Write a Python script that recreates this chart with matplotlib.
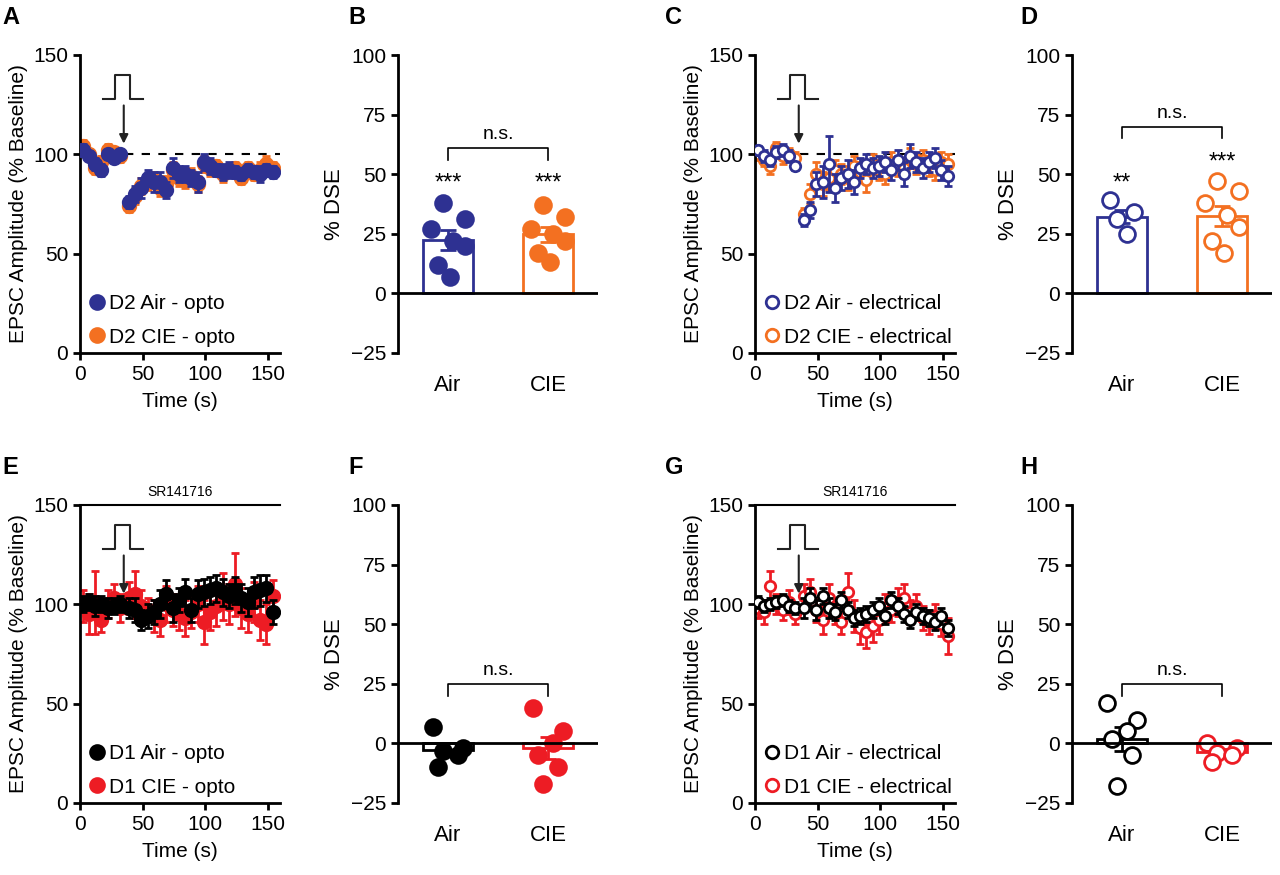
import matplotlib
matplotlib.use("Agg")
import matplotlib.pyplot as plt
from matplotlib.lines import Line2D
import numpy as np

plt.rcParams['font.family'] = ['Liberation Sans', 'DejaVu Sans']
plt.rcParams['font.size'] = 13

BLUE = '#2E3192'
ORANGE = '#F37021'
RED = '#ED1C24'
BLACK = '#000000'

t_base = [2, 7, 12, 17, 22, 27, 32]
t_post = [39, 44, 49, 54, 59, 64, 69, 74, 79, 84, 89, 94, 99, 104, 109, 114,
          119, 124, 129, 134, 139, 144, 149, 154]
time = t_base + t_post

a_air = [102, 99, 95, 92, 100, 98, 100, 76, 80, 83, 88, 86, 86, 82, 93, 90, 90, 88, 86, 96,
         94, 92, 91, 92, 91, 90, 92, 91, 90, 92, 91]
a_air_err = [3, 2, 3, 3, 2, 2, 2, 3, 4, 5, 4, 5, 5, 4, 5, 4, 4, 4, 5, 4,
             4, 3, 4, 4, 3, 3, 3, 3, 4, 3, 3]
a_cie = [104, 100, 93, 96, 102, 101, 99, 74, 79, 84, 86, 87, 83, 85, 92, 88, 87, 89, 85, 95,
         93, 94, 90, 92, 93, 88, 93, 90, 92, 95, 93]
a_cie_err = [3, 2, 3, 3, 3, 2, 3, 3, 4, 4, 4, 4, 4, 4, 4, 4, 4, 4, 4, 4,
             4, 3, 4, 3, 3, 3, 3, 3, 4, 4, 3]

c_air = [102, 99, 97, 101, 102, 99, 94, 67, 72, 85, 86, 95, 83, 88, 90, 86, 93, 95, 93, 94,
         96, 92, 97, 90, 99, 96, 93, 96, 98, 92, 89]
c_air_err = [2, 3, 3, 3, 3, 3, 2, 3, 4, 6, 8, 14, 7, 6, 7, 6, 5, 5, 5, 5,
             5, 5, 5, 6, 6, 5, 5, 5, 5, 5, 5]
c_cie = [100, 97, 94, 103, 99, 100, 98, 70, 80, 90, 85, 88, 92, 90, 88, 94, 91, 87, 95, 92,
         90, 96, 94, 93, 98, 95, 97, 94, 92, 96, 95]
c_cie_err = [3, 3, 4, 3, 4, 3, 3, 3, 5, 6, 6, 6, 5, 5, 6, 5, 5, 6, 5, 5,
             5, 5, 5, 5, 5, 5, 5, 5, 5, 5, 5]

e_air = [100, 101, 99, 100, 98, 99, 100, 98, 97, 92, 94, 96, 100, 105, 98, 102, 106, 97, 105,
         106, 107, 108, 106, 104, 107, 103, 101, 106, 107, 108, 96]
e_air_err = [4, 4, 5, 4, 5, 4, 4, 5, 6, 5, 6, 6, 7, 7, 7, 6, 7, 6, 7, 7,
             7, 7, 7, 6, 7, 7, 7, 8, 8, 7, 6]
e_cie = [99, 95, 101, 92, 100, 103, 98, 103, 105, 99, 97, 94, 92, 100, 97, 95, 93, 96, 100,
         91, 96, 99, 104, 100, 110, 98, 95, 101, 92, 90, 104]
e_cie_err = [8, 10, 16, 6, 7, 7, 7, 8, 12, 8, 6, 8, 8, 9, 8, 8, 9, 8, 9, 11,
             9, 10, 12, 10, 16, 10, 9, 10, 10, 10, 8]

g_air = [101, 99, 100, 101, 102, 99, 98, 98, 103, 97, 104, 98, 96, 102, 97, 93, 94, 95, 97,
         99, 94, 102, 99, 95, 92, 96, 94, 93, 91, 94, 88]
g_air_err = [3, 3, 3, 3, 3, 3, 3, 5, 5, 5, 4, 5, 4, 4, 4, 4, 4, 4, 4, 4,
             4, 4, 4, 4, 4, 4, 4, 4, 4, 4, 4]
g_cie = [98, 96, 109, 100, 97, 101, 95, 104, 106, 97, 92, 103, 96, 91, 106, 94, 88, 86, 89,
         92, 98, 97, 101, 103, 96, 99, 93, 91, 94, 90, 84]
g_cie_err = [5, 6, 8, 5, 5, 6, 5, 6, 7, 6, 7, 7, 6, 6, 10, 8, 8, 8, 8, 7,
             7, 6, 7, 7, 6, 6, 6, 6, 6, 6, 9]

groups = ['Air', 'CIE']
b_air = [38, 31, 27, 22, 20, 12, 7]
b_cie = [37, 32, 27, 25, 22, 17, 13]
d_air = [39, 34, 31, 25]
d_cie = [47, 43, 38, 33, 28, 22, 17]
f_air = [7, -2, -3, -5, -10]
f_cie = [15, 5, 0, -5, -10, -17]
h_air = [17, 10, 5, 2, -5, -18]
h_cie = [0, -2, -4, -5, -8]

H = 875.0
W = 1280.0
def rect(l, top, r, bot):
    return [l / W, 1 - bot / H, (r - l) / W, (bot - top) / H]

fig = plt.figure(figsize=(12.8, 8.75), dpi=100)

def time_panel(pos, s1, e1, s2, e2, c1, c2, filled, labels, sr=False, dashed=False):
    ax = fig.add_axes(pos)
    ms = 9 if filled else 7.5
    for s, e, c, z in [(s2, e2, c2, 2), (s1, e1, c1, 3)]:
        ax.errorbar(time, s, yerr=e, fmt='o', color=c, ecolor=c, elinewidth=2, capsize=3,
                    capthick=2, ms=ms, mfc=c if filled else 'white', mec=c, mew=2, zorder=z)
    ax.set_xlim(0, 160)
    ax.set_ylim(0, 150)
    ax.set_xticks([0, 50, 100, 150])
    ax.set_yticks([0, 50, 100, 150])
    ax.spines['right'].set_visible(False)
    if sr:
        ax.spines['top'].set_linewidth(1.5)
        ax.text(80, 153, 'SR141716', ha='center', va='bottom', fontsize=10)
    else:
        ax.spines['top'].set_visible(False)
    for sp in ['left', 'bottom']:
        ax.spines[sp].set_linewidth(2)
    ax.tick_params(width=2, length=5, labelsize=15)
    if dashed:
        ax.plot([36, 160], [100, 100], ls=(0, (4, 4)), color='black', lw=1.5, zorder=1)
    ax.plot([18, 28, 28, 40, 40, 50], [128, 128, 140, 140, 128, 128], color='#222222', lw=1.5)
    ax.annotate('', xy=(35, 104), xytext=(35, 126),
                arrowprops=dict(arrowstyle='-|>', color='#222222', lw=1.5))
    ax.set_xlabel('Time (s)', fontsize=15, labelpad=6)
    ax.set_ylabel('EPSC Amplitude (% Baseline)', fontsize=15)
    handles = [Line2D([], [], ls='none', marker='o', ms=10 if filled else 9,
                      mfc=c if filled else 'white', mec=c, mew=2) for c in (c1, c2)]
    ax.legend(handles, labels, loc='lower left', frameon=False, fontsize=15,
              handletextpad=0.1, borderaxespad=0.1, labelspacing=0.7, handlelength=1.0,
              borderpad=0.2)
    return ax

def bar_panel(pos, v1, v2, c1, c2, filled, bracket_y, stars=None):
    ax = fig.add_axes(pos)
    xs = [0, 1]
    vals = [v1, v2]
    cols = [c1, c2]
    offs = {4: [-0.12, 0.12, -0.05, 0.05], 5: [-0.15, 0.15, -0.05, 0.1, -0.1],
            6: [-0.15, 0.15, 0.05, -0.1, 0.1, -0.05],
            7: [-0.05, 0.17, -0.17, 0.05, 0.17, -0.1, 0.02]}
    for x, v, c in zip(xs, vals, cols):
        v = np.array(v, float)
        m = v.mean()
        sem = v.std(ddof=1) / np.sqrt(len(v))
        ax.bar(x, m, width=0.5, facecolor='white', edgecolor=c, lw=2, zorder=1)
        ax.errorbar(x, m, yerr=sem, color=c, capsize=6, capthick=2, elinewidth=2, zorder=2)
        o = offs[len(v)]
        ax.scatter(np.array(o) + x, v, s=130, facecolor=c if filled else 'white',
                   edgecolor=c, lw=2, zorder=3)
    ax.axhline(0, color='black', lw=2, zorder=4)
    ax.set_xlim(-0.5, 1.5)
    ax.set_ylim(-25, 100)
    ax.set_yticks([-25, 0, 25, 50, 75, 100])
    ax.set_xticks(xs)
    ax.set_xticklabels(groups, fontsize=16)
    ax.tick_params(axis='x', length=0, pad=16)
    ax.tick_params(axis='y', width=2, length=5, labelsize=15)
    for sp in ['top', 'right', 'bottom']:
        ax.spines[sp].set_visible(False)
    ax.spines['left'].set_linewidth(2)
    ax.set_ylabel('% DSE', fontsize=16)
    ax.plot([0, 0, 1, 1], [bracket_y - 5, bracket_y, bracket_y, bracket_y - 5], color='black', lw=1.2)
    ax.text(0.5, bracket_y + 2, 'n.s.', ha='center', va='bottom', fontsize=14)
    if stars:
        for x, (st, y) in zip(xs, stars):
            ax.text(x, y, st, ha='center', va='center', fontsize=17)
    return ax

time_panel(rect(80, 55, 280, 353), a_air, a_air_err, a_cie, a_cie_err, BLUE, ORANGE, True,
           ['D2 Air - opto', 'D2 CIE - opto'], dashed=True)
bar_panel(rect(398, 55, 598, 353), b_air, b_cie, BLUE, ORANGE, True, 61,
          [('***', 46), ('***', 46)])
time_panel(rect(755, 55, 955, 353), c_air, c_air_err, c_cie, c_cie_err, BLUE, ORANGE, False,
           ['D2 Air - electrical', 'D2 CIE - electrical'], dashed=True)
bar_panel(rect(1072, 55, 1272, 353), d_air, d_cie, BLUE, ORANGE, False, 70,
          [('**', 46), ('***', 55)])
time_panel(rect(80, 505, 280, 803), e_air, e_air_err, e_cie, e_cie_err, BLACK, RED, True,
           ['D1 Air - opto', 'D1 CIE - opto'], sr=True)
bar_panel(rect(398, 505, 598, 803), f_air, f_cie, BLACK, RED, True, 25)
time_panel(rect(755, 505, 955, 803), g_air, g_air_err, g_cie, g_cie_err, BLACK, RED, False,
           ['D1 Air - electrical', 'D1 CIE - electrical'], sr=True)
bar_panel(rect(1072, 505, 1272, 803), h_air, h_cie, BLACK, RED, False, 25)

for lab, x, y in [('A', 2, 18), ('B', 348, 18), ('C', 665, 18), ('D', 1020, 18),
                  ('E', 2, 468), ('F', 348, 468), ('G', 665, 468), ('H', 1020, 468)]:
    fig.text(x / W, 1 - y / H, lab, fontsize=17, fontweight='bold', va='center')

fig.savefig('out.png', dpi=100)
